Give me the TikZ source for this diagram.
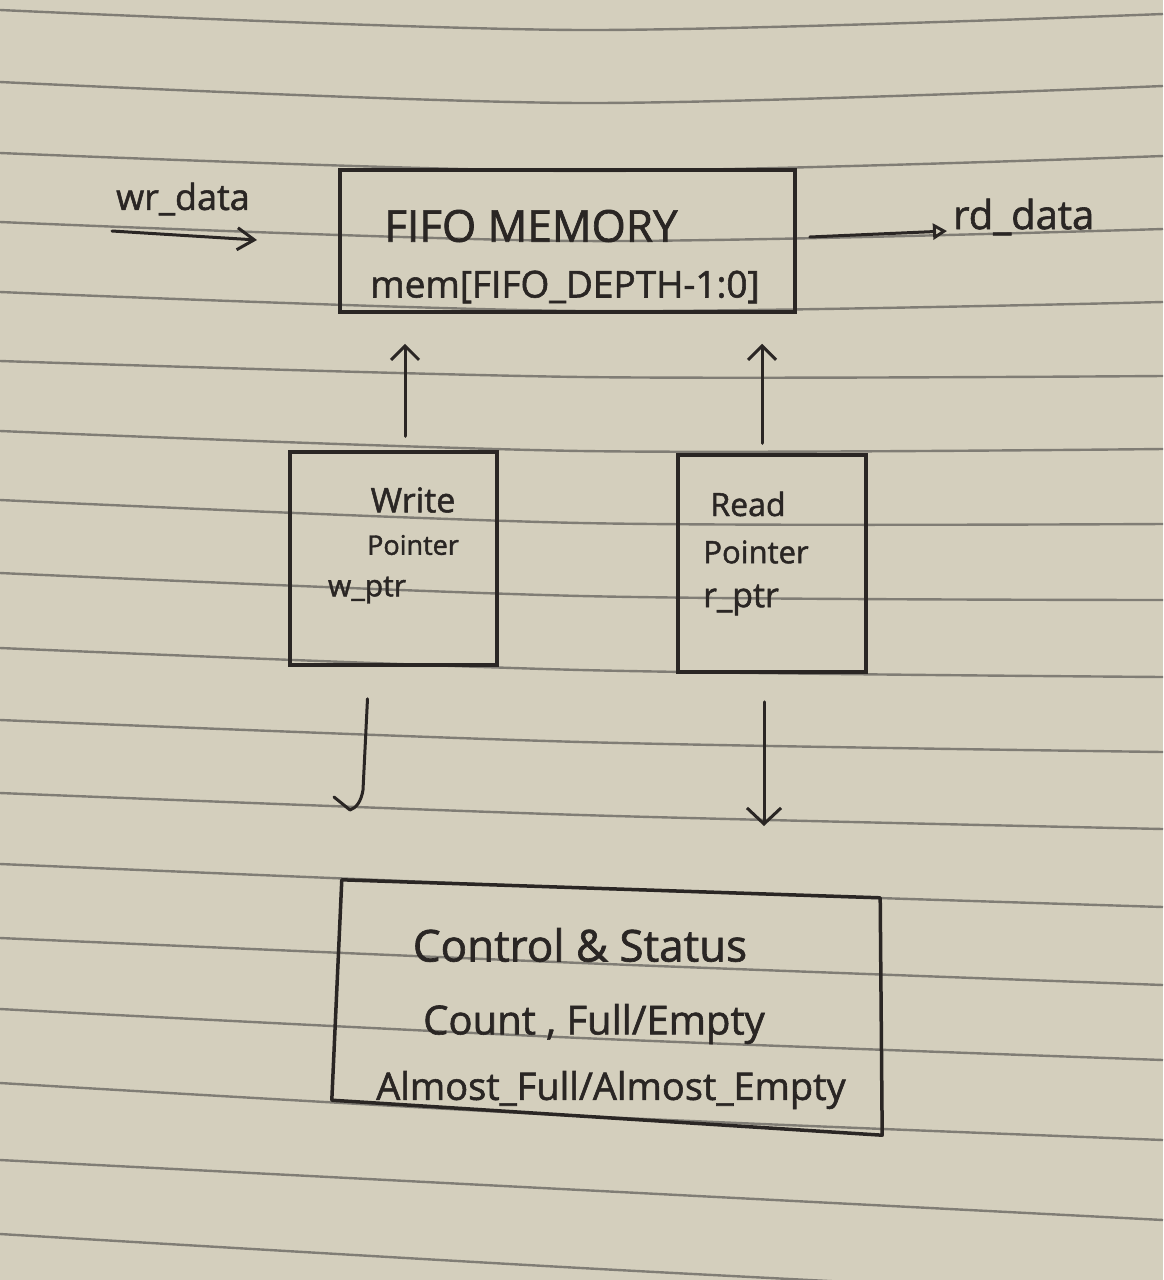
\documentclass[tikz,border=0pt]{standalone}
\usepackage{fontspec}
\setmainfont[FakeBold=1.5,AutoFakeBold=1.5]{Open Sans}
\usetikzlibrary{arrows.meta,calc}
\definecolor{paper}{RGB}{212,207,189}
\definecolor{rulec}{RGB}{128,125,117}
\definecolor{ink}{RGB}{42,38,36}
\tikzset{
  box/.style={draw=ink, line width=3.5pt, inner sep=0pt, rectangle},
  ghost/.style={draw=none, inner sep=0pt, rectangle},
  lbl/.style={text=ink, inner sep=0pt},
  arr/.style={draw=ink, line width=3pt, line cap=round, line join=round},
  upbarb/.style={-{Straight Barb[length=14pt,width=28pt,line width=3pt]}},
}
\newcommand{\fs}[1]{\fontsize{#1}{#1}\selectfont\bfseries}
\begin{document}
\begin{tikzpicture}[x=1pt,y=-1pt]
\fill[paper] (0,0) rectangle (1163,1280);
\useasboundingbox (0,0) rectangle (1163,1280);
% ruled paper lines
\foreach \l/\m/\r in {10/30/14, 82/103/86, 153/171/156, 222/241/229, 292/311/302, 361/377/376, 431/451/449, 500/523/524, 573/596/600, 648/670/677, 720/742/752, 793/815/829, 864/888/907, 938/963/985, 1009/1038/1060, 1083/1116/1140, 1160/1190/1220, 1234/1268/1298}
  \draw[rulec, line width=2.4pt] plot[smooth] coordinates {(0,\l) (581,\m) (1163,\r)};

% boxes
\node[box, minimum width=455pt, minimum height=142pt] (mem) at (567.5,241) {};
\node[box, minimum width=207pt, minimum height=213pt] (wp) at (393.5,558.5) {};
\node[box, minimum width=188pt, minimum height=217pt] (rp) at (772,563.5) {};
\node[ghost, minimum width=546pt, minimum height=255pt] (ctl) at (609,1007.5) {};
\draw[ink, line width=3.5pt, line join=round]
  ($(ctl.north west)+(6,0)$) -- ($(ctl.north east)+(-2,18)$) --
  (ctl.south east) -- ($(ctl.south west)+(-4,-35)$) -- cycle;

% texts
\node[lbl, font=\fs{36}] (twr) at (183,199) {wr\_data};
\node[lbl, font=\fs{44}] (tfm) at (531,226) {FIFO MEMORY};
\node[lbl, font=\fs{37}] (tmem) at (565,287) {mem[FIFO\_DEPTH-1:0]};
\node[lbl, font=\fs{40}, anchor=west] (trd) at (953,217) {rd\_data};
\node[lbl, font=\fs{34}] (tw1) at (413,500) {Write};
\node[lbl, font=\fs{27}] (tw2) at (413,545) {Pointer};
\node[lbl, font=\fs{30}] (tw3) at (367,590) {w\_ptr};
\node[lbl, font=\fs{32}] (tr1) at (748,504) {Read};
\node[lbl, font=\fs{31}] (tr2) at (756,552) {Pointer};
\node[lbl, font=\fs{34}] (tr3) at (741,600) {r\_ptr};
\node[lbl, font=\fs{44}] (tc1) at (580,945) {Control \& Status};
\node[lbl, font=\fs{40}] (tc2) at (594,1024) {Count , Full/Empty};
\node[lbl, font=\fs{38}] (tc3) at (611,1090) {Almost\_Full/Almost\_Empty};

% wr_data input arrow
\coordinate (wrs) at (112,231);
\coordinate (wre) at (257,240);
\draw[arr, -{Straight Barb[length=17pt,width=22pt,line width=3pt]}] (wrs) -- (wre);

% rd_data output arrow
\coordinate (rde) at (947,231);
\draw[arr, -{Triangle[open,length=14pt,width=16pt,line width=3pt]}] ([xshift=13pt,yshift=4pt]mem.east) -- (rde);

% pointer -> memory
\draw[arr, upbarb] ([xshift=11.5pt,yshift=14pt]wp.north) -- ([xshift=-162.5pt,yshift=-30pt]mem.south);
\draw[arr, upbarb] ([xshift=-10pt,yshift=10pt]rp.north) -- ([xshift=194.5pt,yshift=-30pt]mem.south);

% pointers -> control
\coordinate (lda) at (350,810);
\draw[arr] ([xshift=-26pt,yshift=-32pt]wp.south) -- (363,790) .. controls (361,802) and (356,808) .. (lda) -- ($(lda)+(-16,-13)$);
\coordinate (rda) at (764,826);
\draw[arr, -{Straight Barb[length=16pt,width=34pt,line width=3pt]}] ([xshift=-8pt,yshift=-28pt]rp.south) -- (rda);
\end{tikzpicture}
\end{document}
